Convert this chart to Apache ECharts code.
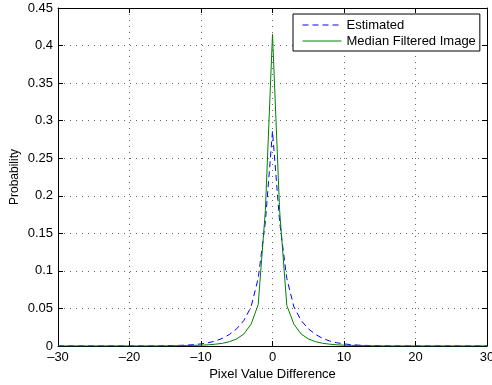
<!DOCTYPE html>
<html>
<head>
<meta charset="utf-8">
<script src="https://cdn.jsdelivr.net/npm/echarts@6/dist/echarts.min.js"></script>
<style>
  html, body {margin: 0; padding: 0; background: #fff;}
  #chart {width: 492px; height: 385px;}
</style>
</head>
<body>
<div id="chart"></div>
<script>
// pixel value difference, -30 .. 30
const xs = [-30, -29, -28, -27, -26, -25, -24, -23, -22, -21, -20, -19, -18, -17, -16, -15, -14, -13, -12, -11,
  -10, -9, -8, -7, -6, -5, -4, -3, -2, -1, 0, 1, 2, 3, 4, 5, 6, 7, 8, 9, 10,
  11, 12, 13, 14, 15, 16, 17, 18, 19, 20, 21, 22, 23, 24, 25, 26, 27, 28, 29, 30];

const estimated = [0.0001, 0.0001, 0.0001, 0.0001, 0.0001, 0.0001, 0.0001, 0.0001, 0.0001, 0.0001,
  0.0001, 0.0001, 0.0001, 0.0001, 0.0002, 0.0003, 0.0005, 0.0008, 0.0012, 0.0018,
  0.0028, 0.0043, 0.0066, 0.0102, 0.0155, 0.023, 0.034, 0.052, 0.09, 0.165,
  0.286,
  0.165, 0.09, 0.052, 0.034, 0.023, 0.0155, 0.0102, 0.0066, 0.0043, 0.0028,
  0.0018, 0.0012, 0.0008, 0.0005, 0.0003, 0.0002, 0.0001, 0.0001, 0.0001, 0.0001,
  0.0001, 0.0001, 0.0001, 0.0001, 0.0001, 0.0001, 0.0001, 0.0001, 0.0001, 0.0001];

const medianFiltered = [0.0001, 0.0001, 0.0001, 0.0001, 0.0001, 0.0001, 0.0001, 0.0001, 0.0001, 0.0001,
  0.0001, 0.0001, 0.0001, 0.0001, 0.0001, 0.0002, 0.0003, 0.0004, 0.0006, 0.0008,
  0.0011, 0.0016, 0.0024, 0.0036, 0.0058, 0.0095, 0.016, 0.029, 0.055, 0.18,
  0.415,
  0.18, 0.054, 0.029, 0.016, 0.0095, 0.0058, 0.0036, 0.0024, 0.0016, 0.0011,
  0.0008, 0.0006, 0.0004, 0.0003, 0.0002, 0.0001, 0.0001, 0.0001, 0.0001, 0.0001,
  0.0001, 0.0001, 0.0001, 0.0001, 0.0001, 0.0001, 0.0001, 0.0001, 0.0001, 0.0001];

const seriesNames = ['Estimated', 'Median Filtered Image'];

const font = 'Liberation Sans, Arial, Helvetica, sans-serif';
const minus = v => String(v).replace('-', '\u2013');

const chart = echarts.init(document.getElementById('chart'));

const gridLine = {show: true, lineStyle: {color: '#6a6a6a', type: [1, 5], width: 1}};
const tick = {show: true, inside: true, length: 5, lineStyle: {color: '#000'}};
const axisLine = {show: true, onZero: false, lineStyle: {color: '#000', width: 1}};

chart.setOption({
  animation: false,
  textStyle: {fontFamily: font},
  grid: {left: 58, right: 5, top: 8, bottom: 39, containLabel: false, outerBoundsMode: 'none'},
  legend: {
    left: 293,
    top: 14,
    orient: 'vertical',
    backgroundColor: '#fff',
    borderColor: '#000',
    borderWidth: 1,
    borderRadius: 0,
    padding: [4, 4, 3, 9],
    itemWidth: 39,
    itemHeight: 14,
    itemGap: 2,
    itemStyle: {opacity: 0},
    lineStyle: {width: 1},
    textStyle: {fontSize: 13, color: '#000', fontFamily: font, lineHeight: 14},
    data: seriesNames
  },
  xAxis: [{
    type: 'value',
    min: -30, max: 30, interval: 10,
    name: 'Pixel Value Difference',
    nameLocation: 'middle',
    nameGap: 22,
    nameMoveOverlap: false,
    nameTextStyle: {fontSize: 13, color: '#000', fontFamily: font},
    axisLine, axisTick: tick,
    axisLabel: {fontSize: 13, color: '#000', margin: 5, formatter: minus},
    splitLine: gridLine
  }, {
    type: 'value', position: 'top',
    min: -30, max: 30, interval: 10,
    axisLine, axisTick: tick,
    axisLabel: {show: false},
    splitLine: {show: false}
  }],
  yAxis: [{
    type: 'value',
    min: 0, max: 0.45, interval: 0.05,
    name: 'Probability',
    nameLocation: 'middle',
    nameGap: 37,
    nameMoveOverlap: false,
    nameTextStyle: {fontSize: 12, color: '#000', fontFamily: font},
    axisLine, axisTick: tick,
    axisLabel: {fontSize: 13, color: '#000', margin: 5,
      formatter: v => String(Math.round(v * 100) / 100)},
    splitLine: gridLine
  }, {
    type: 'value', position: 'right',
    min: 0, max: 0.45, interval: 0.05,
    axisLine, axisTick: tick,
    axisLabel: {show: false},
    splitLine: {show: false}
  }],
  series: [{
    name: seriesNames[0],
    type: 'line',
    data: xs.map((x, i) => [x, estimated[i]]),
    showSymbol: false,
    symbol: 'none',
    lineStyle: {color: '#0000ff', width: 1, type: [6, 4]},
    itemStyle: {color: '#0000ff'},
    z: 3
  }, {
    name: seriesNames[1],
    type: 'line',
    data: xs.map((x, i) => [x, medianFiltered[i]]),
    showSymbol: false,
    symbol: 'none',
    lineStyle: {color: '#008000', width: 1},
    itemStyle: {color: '#008000'},
    z: 4
  }]
});
</script>
</body>
</html>
